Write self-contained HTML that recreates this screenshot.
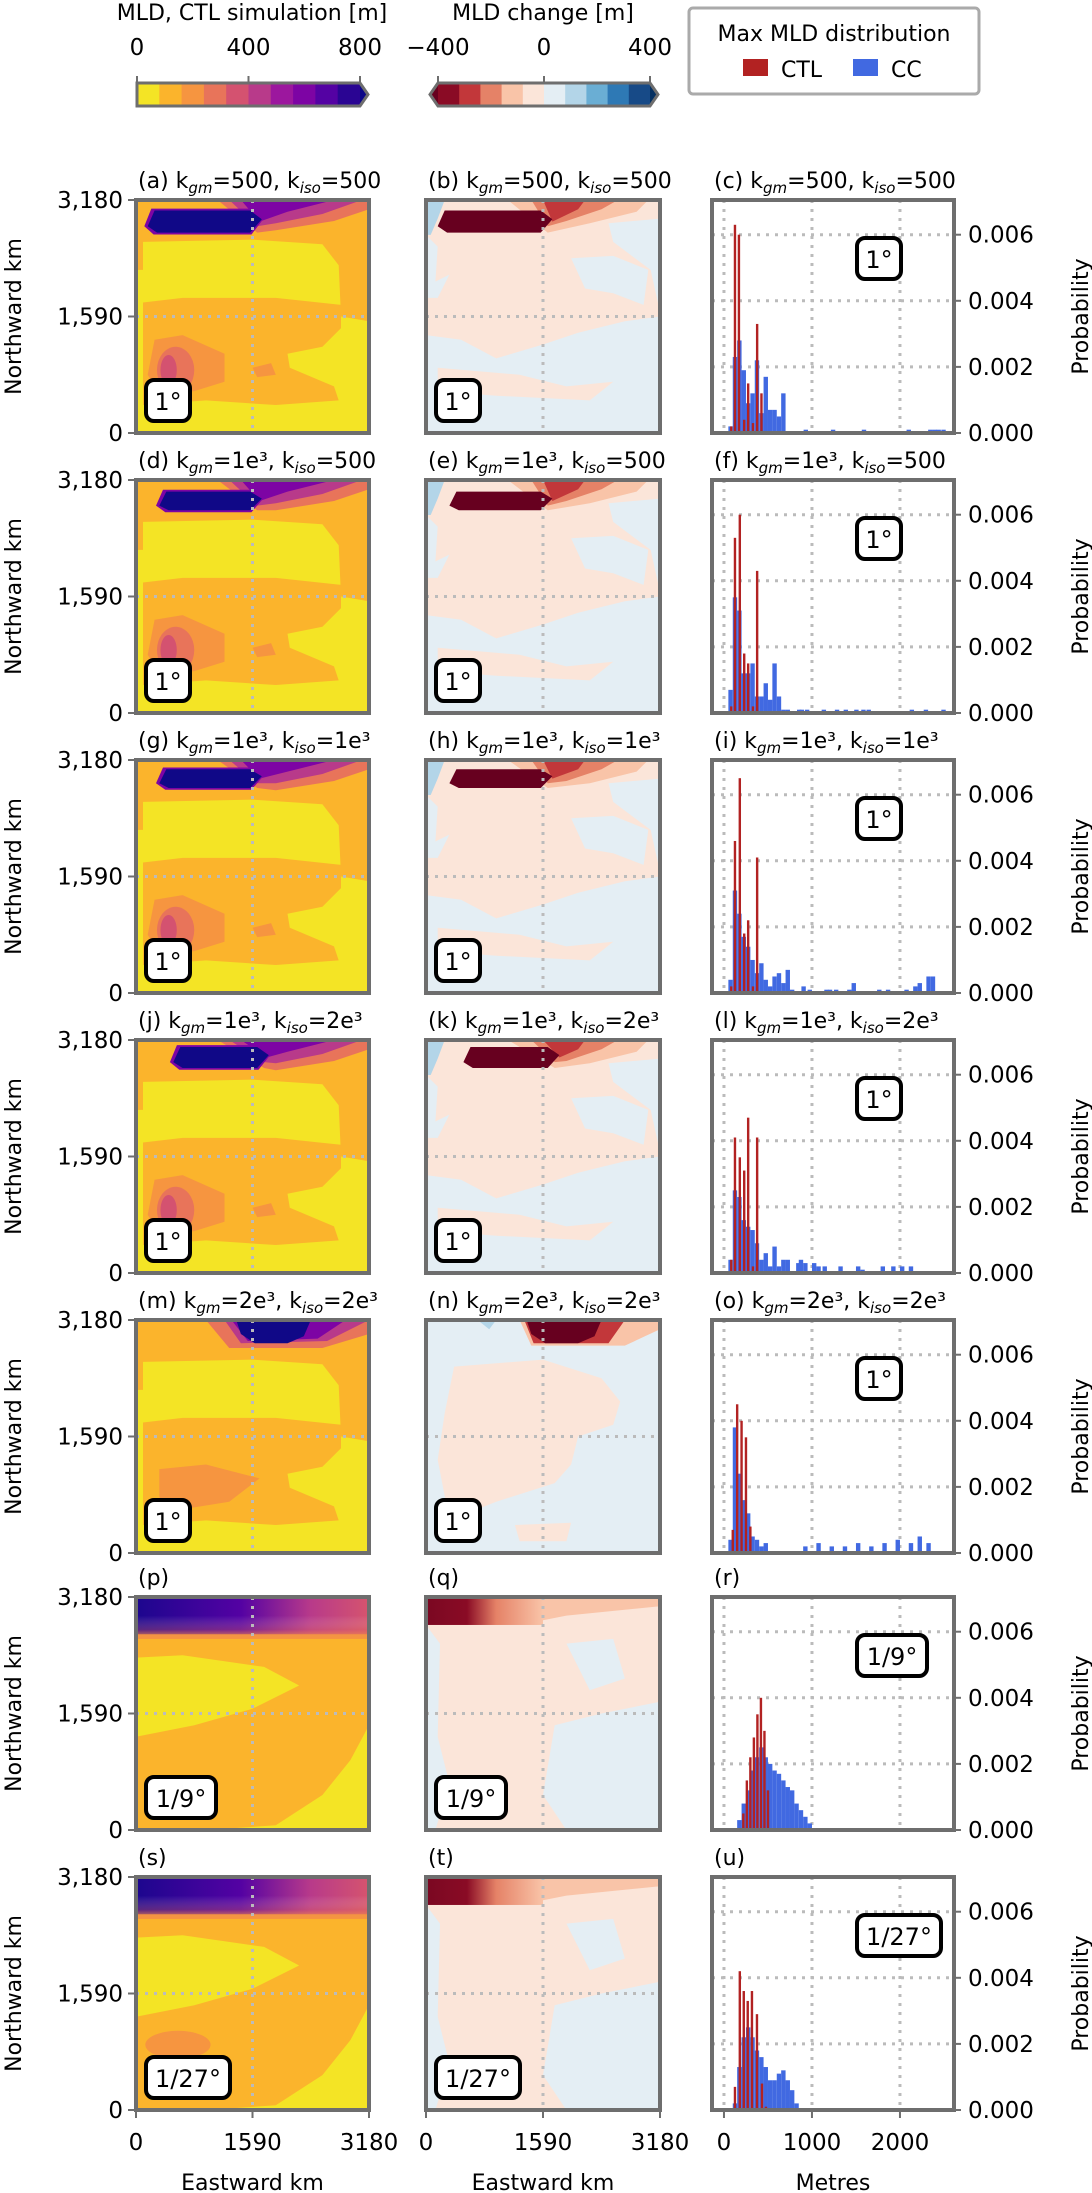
<!DOCTYPE html>
<html><head><meta charset="utf-8">
<style>
html,body{margin:0;padding:0;background:#fff;}
svg{display:block;font-family:"DejaVu Sans","Liberation Sans",sans-serif;}
</style></head>
<body>
<svg id="fig" width="1092" height="2193" viewBox="0 0 1092 2193" xmlns="http://www.w3.org/2000/svg">
<defs>
<linearGradient id="topP" x1="0" x2="1" y1="0" y2="0">
<stop offset="0" stop-color="#1c068e"/><stop offset="0.45" stop-color="#5402a3"/><stop offset="0.75" stop-color="#b83a8a"/><stop offset="1" stop-color="#d5546e"/></linearGradient>
<linearGradient id="topPv" x1="0" x2="0" y1="0" y2="1">
<stop offset="0" stop-color="#fff" stop-opacity="0"/><stop offset="0.6" stop-color="#e8745a" stop-opacity="0.3"/><stop offset="1" stop-color="#f69540" stop-opacity="1"/></linearGradient>
<linearGradient id="topR" x1="0" x2="1" y1="0" y2="0">
<stop offset="0" stop-color="#7a0822"/><stop offset="0.35" stop-color="#8a0b25"/><stop offset="0.6" stop-color="#e58267"/><stop offset="1" stop-color="#f9c4a8"/></linearGradient>
</defs>
</svg>
<script>
// ---------- histogram data (metres, probability) ----------
const binWidth = 50;
const ccStartA = 50;
const ccA = [0.0002,0.0023,0.0028,0.0019,0.0009,0.0012,0.0022,0.0006,0.0017,0.0007,0.0007,0.0005,0.0012];
const ccOutPosA = [905,1215,1566,2075,2320,2370,2415,2470];
const ccOutValA = [0.0001,0.0001,0.0001,0.0001,0.0001,0.0001,0.0001,0.0001];
const ctlPosA = [83,125,170,230,275,330,377,426];
const ctlValA = [0.0002,0.0063,0.0060,0.0004,0.0015,0.0003,0.0033,0.0012];

const ccStartD = 50;
const ccD = [0.0007,0.0035,0.0031,0.0012,0.0012,0.0015,0.0005,0.0005,0.0009,0.0004,0.0015,0.0005,0.0001,0.0001];
const ccOutPosD = [830,860,920,1110,1260,1360,1480,1560,1620,2110,2270,2470];
const ccOutValD = [0.0001,0.0001,0.0001,0.0001,0.0001,0.0001,0.0001,0.0001,0.0001,0.0001,0.0001,0.0001];
const ctlPosD = [83,125,180,230,275,330,377];
const ctlValD = [0.0002,0.0053,0.0060,0.0018,0.0015,0.0002,0.0043];

const ccStartG = 50;
const ccG = [0.0004,0.0031,0.0024,0.0017,0.0014,0.0010,0.0006,0.0009,0.0004,0.0002,0.0005,0.0006,0.0003,0.0007,0.0001];
const ccOutPosG = [880,950,1140,1180,1250,1400,1450,1740,1840,2050,2150,2200,2300,2350];
const ccOutValG = [0.0002,0.0001,0.0001,0.0001,0.0001,0.0001,0.0003,0.0001,0.0001,0.0001,0.0002,0.0003,0.0005,0.0005];
const ctlPosG = [83,125,180,230,275,330,377];
const ctlValG = [0.0002,0.0046,0.0065,0.0018,0.0022,0.0002,0.0041];

const ccStartJ = 50;
const ccJ = [0.0004,0.0025,0.0023,0.0016,0.0014,0.0013,0.0009,0.0004,0.0006,0.0002,0.0008,0.0002,0.0004,0.0004];
const ccOutPosJ = [820,850,900,1000,1050,1120,1300,1500,1550,1780,1900,2000,2100];
const ccOutValJ = [0.0003,0.0004,0.0003,0.0003,0.0002,0.0002,0.0002,0.0002,0.0001,0.0002,0.0002,0.0002,0.0002];
const ctlPosJ = [83,125,180,230,275,330,377];
const ctlValJ = [0.0004,0.0041,0.0035,0.0031,0.0047,0.0002,0.0041];

const ccStartM = 50;
const ccM = [0.0004,0.0038,0.0024,0.0016,0.0012,0.0005,0.0004,0.0002,0.0003];
const ccOutPosM = [900,1050,1200,1350,1500,1650,1800,1950,2100,2200,2300];
const ccOutValM = [0.0002,0.0003,0.0002,0.0002,0.0003,0.0002,0.0003,0.0004,0.0003,0.0005,0.0003];
const ctlPosM = [100,150,200,250,300];
const ctlValM = [0.0007,0.0045,0.0040,0.0035,0.0008];

const ccStartP = 150;
const ccP = [0.0003,0.0008,0.0012,0.0018,0.0022,0.0025,0.0022,0.0020,0.0018,0.0017,0.0015,0.0013,0.0012,0.0008,0.0006,0.0004,0.0002];
const ccOutPosP = [];
const ccOutValP = [];
const ctlPosP = [220,260,300,340,380,420,460,500];
const ctlValP = [0.0005,0.0015,0.0022,0.0028,0.0035,0.0040,0.0030,0.0012];

const ccStartS = 100;
const ccS = [0.0002,0.0013,0.0022,0.0025,0.0022,0.0018,0.0016,0.0013,0.0009,0.0009,0.0011,0.0012,0.0009,0.0006,0.0002];
const ccOutPosS = [];
const ccOutValS = [];
const ctlPosS = [125,180,225,270,318,375,432,477];
const ctlValS = [0.0007,0.0042,0.0036,0.0033,0.0036,0.0029,0.0008,0.0001];

const yTicks = [0.000,0.002,0.004,0.006];
const yTickLabels = ["0.000","0.002","0.004","0.006"];
const xTicksHist = [0,1000,2000];
const xTickLabelsMap = ["0","1590","3180"];
const yTickLabelsMap = ["0","1,590","3,180"];
const cbar1Labels = ["0","400","800"];
const cbar2Labels = ["\u2212400","0","400"];

// ---------- helpers ----------
const NS="http://www.w3.org/2000/svg";
const svg=document.getElementById('fig');
function mk(tag,attrs,parent){const e=document.createElementNS(NS,tag);for(const k in attrs)e.setAttribute(k,attrs[k]);(parent||svg).appendChild(e);return e;}
function txt(s,x,y,size,anchor,parent,extra){const t=mk('text',Object.assign({x:x,y:y,'font-size':size,'text-anchor':anchor||'start',fill:'#000'},extra||{}),parent);t.textContent=s;return t;}

const FT=23;
const colX=[[136,369],[426,660],[712,954]];
const rowTop=[200,480,760,1040,1320,1597,1877];
const rowH=233;
const GRAY='#6e6e6e';
const hxMin=-136, hxMax=2614;
function hx(m){return 712+(m-hxMin)/(hxMax-hxMin)*(954-712);}
function hy(p,top){return top+rowH-p/0.00705*rowH;}

// ---------- colourbars ----------
const plasma=['#f4e425','#fbb42c','#f69540','#e8745a','#d45270','#b83a8a','#9c179e','#7d04a4','#5402a3','#2a0593'];
const rdbu=['#8a0b25','#c2373a','#e58267','#f9c4a8','#fbe5d9','#e4eef4','#b3d5e8','#6aaed4','#2e79b5','#174a87'];
(function(){
 let g=mk('g',{});
 
 
 const x0=137,x1=360,y0=83,y1=106,w=(x1-x0)/10;
 plasma.forEach((c,i)=>mk('rect',{x:x0+i*w,y:y0,width:w+0.5,height:y1-y0,fill:c},g));
 mk('polygon',{points:`${x1},${y0} ${x1+8},${(y0+y1)/2} ${x1},${y1}`,fill:'#0d0887'},g);
 mk('polygon',{points:`${x0},${y0} ${x1},${y0} ${x1+8},${(y0+y1)/2} ${x1},${y1} ${x0},${y1}`,fill:'none',stroke:GRAY,'stroke-width':3},g);
 [0,400,800].forEach((v,i)=>{const x=x0+v/800*(x1-x0);mk('line',{x1:x,x2:x,y1:y0-1,y2:y0-7,stroke:GRAY,'stroke-width':2},g);txt(cbar1Labels[i],x,55,FT,'middle',g);});
 txt('MLD, CTL simulation [m]',252,20,22,'middle',g);
 let g2=mk('g',{});
 
 
 const a0=438,a1=650,w2=(a1-a0)/10;
 rdbu.forEach((c,i)=>mk('rect',{x:a0+i*w2,y:y0,width:w2+0.5,height:y1-y0,fill:c},g2));
 mk('polygon',{points:`${a1},${y0} ${a1+8},${(y0+y1)/2} ${a1},${y1}`,fill:'#053061'},g2);
 mk('polygon',{points:`${a0},${y0} ${a0-8},${(y0+y1)/2} ${a0},${y1}`,fill:'#67001f'},g2);
 mk('polygon',{points:`${a0},${y0} ${a1},${y0} ${a1+8},${(y0+y1)/2} ${a1},${y1} ${a0},${y1} ${a0-8},${(y0+y1)/2}`,fill:'none',stroke:GRAY,'stroke-width':3},g2);
 [-400,0,400].forEach((v,i)=>{const x=a0+(v+400)/800*(a1-a0);mk('line',{x1:x,x2:x,y1:y0-1,y2:y0-7,stroke:GRAY,'stroke-width':2},g2);txt(cbar2Labels[i],x,55,FT,'middle',g2);});
 txt('MLD change [m]',543,20,22,'middle',g2);
 let lg=mk('g',{});
 
 
 mk('rect',{x:689,y:8,width:290,height:86,rx:4,fill:'#fff',stroke:'#aaa','stroke-width':3},lg);
 txt('Max MLD distribution',834,41,22,'middle',lg);
 let e1=mk('g',{},lg);
 
 
 mk('rect',{x:743,y:59,width:25,height:17,fill:'#b22222'},e1);txt('CTL',781,77,22,'start',e1);
 let e2=mk('g',{},lg);
 
 
 mk('rect',{x:853,y:59,width:25,height:17,fill:'#4169e1'},e2);txt('CC',891,77,22,'start',e2);
})();

// ---------- panels ----------
const titlesK=[['500','500'],['1e\u00b3','500'],['1e\u00b3','1e\u00b3'],['1e\u00b3','2e\u00b3'],['2e\u00b3','2e\u00b3']];
const letters='abcdefghijklmnopqrstu';
const resLab=['1\u00b0','1\u00b0','1\u00b0','1\u00b0','1\u00b0','1/9\u00b0','1/27\u00b0'];
const blobs=[[0.05,0.52,0.045,0.14],[0.1,0.52,0.05,0.13],[0.1,0.52,0.04,0.12],[0.16,0.55,0.03,0.12],[0.43,0.75,0.0,0.1]];
const hist=[[ccStartA,ccA,ccOutPosA,ccOutValA,ctlPosA,ctlValA],[ccStartD,ccD,ccOutPosD,ccOutValD,ctlPosD,ctlValD],[ccStartG,ccG,ccOutPosG,ccOutValG,ctlPosG,ctlValG],[ccStartJ,ccJ,ccOutPosJ,ccOutValJ,ctlPosJ,ctlValJ],[ccStartM,ccM,ccOutPosM,ccOutValM,ctlPosM,ctlValM],[ccStartP,ccP,ccOutPosP,ccOutValP,ctlPosP,ctlValP],[ccStartS,ccS,ccOutPosS,ccOutValS,ctlPosS,ctlValS]];

function poly(g,x0,y0,w,h,pts,fill){return mk('polygon',{points:pts.map(p=>(x0+p[0]*w).toFixed(1)+','+(y0+p[1]*h).toFixed(1)).join(' '),fill:fill},g);}
function label(g,x,y,w,s){mk('rect',{x:x,y:y,width:w,height:41,rx:8,fill:'#fff',stroke:'#000','stroke-width':4},g);txt(s,x+w/2,y+30,24,'middle',g);}
function hexb(g,x0,top,w,h,b,fill,round){
 const [u0,u1,v0,v1]=b;
 if(round){return poly(g,x0,top,w,h,[[u0,v0],[u1,v0],[u1-0.03,v1*0.7],[u1-0.1,v1],[u0+0.08,v1],[u0+0.02,v1*0.6]],fill);}
 return poly(g,x0,top,w,h,[[u0+0.03,v0],[u1-0.03,v0],[u1+0.02,(v0+v1)/2-0.01],[u1-0.03,v1],[u0+0.04,v1],[u0,(v0+v1)/2+0.02]],fill);
}

for(let r=0;r<7;r++){
 const top=rowTop[r];
 for(let c=0;c<3;c++){
  const [x0,x1]=colX[c];const w=x1-x0,h=rowH;
  const L=letters[r*3+c];
  let t=(r<5)?`(${L}) k<tspan font-size="15" dy="5" font-style="italic">gm</tspan><tspan dy="-5">=${titlesK[r][0]}, k</tspan><tspan font-size="15" dy="5" font-style="italic">iso</tspan><tspan dy="-5">=${titlesK[r][1]}</tspan>`:`(${L})`;
  const tt=mk('text',{x:x0+2,y:top-12,'font-size':22,fill:'#000'});
  tt.innerHTML=t;
  
  
  const g=mk('g',{});
  
  
  if(c===0){
   mk('rect',{x:x0,y:top,width:w,height:h,fill:'#f4e425'},g);
   if(r<5){
    const b=blobs[r], last=(r===4);
    poly(g,x0,top,w,h,[[0,0],[1,0],[1,0.52],[0.88,0.5],[0.87,0.28],[0.8,0.19],[0.5,0.17],[0.03,0.18],[0.03,0.3],[0,0.3]],'#fbb42c');
    poly(g,x0,top,w,h,[[0.03,0.44],[0.2,0.42],[0.6,0.42],[0.88,0.45],[0.88,0.55],[0.8,0.63],[0.65,0.66],[0.66,0.72],[0.85,0.8],[0.87,0.86],[0.6,0.88],[0.3,0.86],[0.03,0.88]],'#fbb42c');
    if(!last){
     poly(g,x0,top,w,h,[[0.08,0.6],[0.2,0.58],[0.38,0.66],[0.38,0.78],[0.25,0.82],[0.1,0.84],[0.05,0.75]],'#f69540');
     mk('ellipse',{cx:x0+0.17*w,cy:top+0.73*h,rx:0.08*w,ry:0.1*h,fill:'#e8745a'},g);
     mk('ellipse',{cx:x0+0.14*w,cy:top+0.73*h,rx:0.035*w,ry:0.065*h,fill:'#d45270'},g);
     poly(g,x0,top,w,h,[[0.5,0.72],[0.58,0.7],[0.6,0.75],[0.52,0.76]],'#f69540');
    } else {
     poly(g,x0,top,w,h,[[0.1,0.64],[0.3,0.62],[0.53,0.68],[0.4,0.78],[0.15,0.82],[0.1,0.76]],'#f69540');
    }
    if(!last){
     poly(g,x0,top,w,h,[[0.35,0],[1,0],[1,0.04],[0.85,0.09],[0.6,0.13],[b[1],b[3]]],'#e8745a');
     poly(g,x0,top,w,h,[[0.4,0],[0.97,0],[0.8,0.06],[0.6,0.1],[b[1],(b[2]+b[3])/2+0.02]],'#b83a8a');
     poly(g,x0,top,w,h,[[0.45,0],[0.85,0],[0.65,0.05],[b[1]+0.01,(b[2]+b[3])/2]],'#7d04a4');
     hexb(g,x0-1,top,w,h,[b[0]-0.01,b[1]+0.01,b[2]-0.008,b[3]+0.008],'#7d04a4');
    } else {
     poly(g,x0,top,w,h,[[0.3,0],[1,0],[1,0.06],[0.8,0.12],[0.4,0.12]],'#e8745a');
     poly(g,x0,top,w,h,[[0.38,0],[1,0],[0.82,0.09],[0.45,0.1]],'#b83a8a');
     poly(g,x0,top,w,h,[[0.41,0],[0.9,0],[0.78,0.08],[0.48,0.09]],'#7d04a4');
    }
    hexb(g,x0,top,w,h,b,'#100887',last);
   } else {
    poly(g,x0,top,w,h,[[0,0.15],[1,0.12],[1,0.55],[0.92,0.7],[0.8,0.85],[0.6,0.98],[0.3,1],[0,1],[0,0.6],[0.25,0.55],[0.5,0.48],[0.7,0.38],[0.55,0.3],[0.2,0.25],[0,0.26]],'#fbb42c');
    if(r===6) mk('ellipse',{cx:x0+0.18*w,cy:top+0.72*h,rx:0.14*w,ry:0.06*h,fill:'#f69540'},g);
    mk('rect',{x:x0,y:top,width:w,height:0.16*h,fill:'url(#topP)'},g);
    mk('rect',{x:x0,y:top+0.08*h,width:w,height:0.1*h,fill:'url(#topPv)'},g);
   }
  } else if(c===1){
   if(r<5){
    const b=blobs[r], last=(r===4);
    if(!last){
     mk('rect',{x:x0,y:top,width:w,height:h,fill:'#fbe5d9'},g);
     poly(g,x0,top,w,h,[[0,0],[0.08,0],[0.05,0.08],[0.02,0.15],[0,0.15]],'#b3d5e8');
     poly(g,x0,top,w,h,[[0,0.15],[0.05,0.2],[0.04,0.35],[0.1,0.32],[0.05,0.42],[0,0.42]],'#e4eef4');
     poly(g,x0,top,w,h,[[0.62,0.25],[0.8,0.24],[0.95,0.3],[0.93,0.45],[0.8,0.4],[0.68,0.38]],'#e4eef4');
     poly(g,x0,top,w,h,[[0.78,0.1],[1,0.08],[1,0.48],[0.96,0.3],[0.8,0.18]],'#e4eef4');
     poly(g,x0,top,w,h,[[0,0.58],[0.15,0.6],[0.3,0.68],[0.5,0.62],[0.65,0.57],[0.85,0.52],[1,0.5],[1,1],[0,1]],'#e4eef4');
     poly(g,x0,top,w,h,[[0.05,0.72],[0.4,0.75],[0.6,0.8],[0.8,0.78],[0.7,0.86],[0.3,0.84],[0.05,0.82]],'#fbe5d9');
     poly(g,x0,top,w,h,[[0.35,0],[0.95,0],[0.9,0.05],[0.7,0.1],[b[1],b[3]]],'#f9c4a8');
     poly(g,x0,top,w,h,[[0.45,0],[0.82,0],[0.75,0.04],[0.6,0.09],[b[1],(b[2]+b[3])/2+0.02]],'#e58267');
     poly(g,x0,top,w,h,[[0.5,0.0],[0.68,0.0],[0.65,0.04],[b[1]+0.02,(b[2]+b[3])/2]],'#c2373a');
    } else {
     mk('rect',{x:x0,y:top,width:w,height:h,fill:'#e4eef4'},g);
     poly(g,x0,top,w,h,[[0.12,0.2],[0.5,0.17],[0.75,0.25],[0.83,0.35],[0.8,0.45],[0.65,0.5],[0.62,0.62],[0.55,0.7],[0.3,0.78],[0.1,0.86],[0.05,0.6],[0.08,0.4]],'#fbe5d9');
     poly(g,x0,top,w,h,[[0.38,0.88],[0.62,0.87],[0.6,0.95],[0.4,0.95]],'#fbe5d9');
     poly(g,x0,top,w,h,[[0.22,0],[0.3,0],[0.27,0.04]],'#b3d5e8');
     poly(g,x0,top,w,h,[[0.4,0],[1,0],[1,0.04],[0.85,0.11],[0.45,0.11]],'#f9c4a8');
     poly(g,x0,top,w,h,[[0.42,0],[0.85,0],[0.78,0.1],[0.46,0.1]],'#c2373a');
    }
    hexb(g,x0,top,w,h,b,'#67001f',last);
   } else {
    mk('rect',{x:x0,y:top,width:w,height:h,fill:'#fbe5d9'},g);
    poly(g,x0,top,w,h,[[0,0.12],[0.06,0.2],[0.05,0.6],[0.1,0.8],[0.04,1],[0,1]],'#e4eef4');
    poly(g,x0,top,w,h,[[0.55,0.55],[0.75,0.5],[1,0.45],[1,1],[0.6,1],[0.5,0.85]],'#e4eef4');
    poly(g,x0,top,w,h,[[0.6,0.2],[0.8,0.18],[0.85,0.35],[0.7,0.4]],'#e4eef4');
    mk('rect',{x:x0,y:top,width:0.5*w,height:0.12*h,fill:'url(#topR)'},g);
    poly(g,x0,top,w,h,[[0.5,0],[1,0],[1,0.04],[0.6,0.08],[0.5,0.1]],'#f9c4a8');
   }
  } else {
   mk('rect',{x:x0,y:top,width:w,height:h,fill:'#fff'},g);
  }
  if(c<2){
   mk('line',{x1:(x0+x1)/2,x2:(x0+x1)/2,y1:top,y2:top+h,stroke:'#bbb','stroke-width':3,'stroke-dasharray':'3,6'},g);
   mk('line',{x1:x0,x2:x1,y1:top+h/2,y2:top+h/2,stroke:'#bbb','stroke-width':3,'stroke-dasharray':'3,6'},g);
  } else {
   xTicksHist.forEach(v=>mk('line',{x1:hx(v),x2:hx(v),y1:top,y2:top+h,stroke:'#bbb','stroke-width':3,'stroke-dasharray':'3,6'},g));
   yTicks.slice(1).forEach(v=>mk('line',{x1:x0,x2:x1,y1:hy(v,top),y2:hy(v,top),stroke:'#bbb','stroke-width':3,'stroke-dasharray':'3,6'},g));
   const d=hist[r];
   d[1].forEach((v,i)=>{const a=d[0]+i*binWidth;
    const bar=mk('rect',{x:hx(a),y:hy(v,top),width:hx(a+binWidth)-hx(a),height:top+h-hy(v,top),fill:'#4169e1'},g);
    
    });
   d[2].forEach((p,i)=>{
    const bar=mk('rect',{x:hx(p),y:hy(d[3][i],top),width:hx(p+binWidth)-hx(p),height:top+h-hy(d[3][i],top),fill:'#4169e1'},g);
    
    });
   d[4].forEach((p,i)=>{
    const bar=mk('rect',{x:hx(p)-1.2,y:hy(d[5][i],top),width:2.4,height:top+h-hy(d[5][i],top),fill:'#b22222'},g);
    
    });
   yTicks.forEach((v,i)=>{const y=hy(v,top);mk('line',{x1:x1,x2:x1+7,y1:y,y2:y,stroke:GRAY,'stroke-width':2},g);txt(yTickLabels[i],x1+14,y+8,FT,'start',g);});
   const pl=txt('Probability',1088,top+h/2,22,'middle',g,{transform:`rotate(-90 1088 ${top+h/2})`});
   
   
  }
  mk('rect',{x:x0,y:top,width:w,height:h,fill:'none',stroke:GRAY,'stroke-width':4},g);
  const lw=r===6?84:(r===5?70:44);
  if(c<2) label(g,x0+10,top+180,lw,resLab[r]); else label(g,857,top+38,lw,resLab[r]);
  if(c===0){
   [0,0.5,1].forEach((f,i)=>{const y=top+h-f*h;mk('line',{x1:x0-8,x2:x0,y1:y,y2:y,stroke:GRAY,'stroke-width':2},g);txt(yTickLabelsMap[i],x0-13,y+8,FT,'end',g);});
   const yl=txt('Northward km',21,top+h/2,22,'middle',g,{transform:`rotate(-90 21 ${top+h/2})`});
   
   
  }
  if(r===6){
   if(c<2){[0,0.5,1].forEach((f,i)=>{const x=x0+f*w;mk('line',{x1:x,x2:x,y1:top+h,y2:top+h+8,stroke:GRAY,'stroke-width':2},g);txt(xTickLabelsMap[i],x,top+h+40,FT,'middle',g);});
    const xl=txt('Eastward km',(x0+x1)/2,2190,22,'middle',g);
    
    }
   else {xTicksHist.forEach(v=>{const x=hx(v);mk('line',{x1:x,x2:x,y1:top+h,y2:top+h+8,stroke:GRAY,'stroke-width':2},g);txt(String(v),x,top+h+40,FT,'middle',g);});
    const xl=txt('Metres',(x0+x1)/2,2190,22,'middle',g);
    
    }
  }
 }
}
</script>
</body></html>
